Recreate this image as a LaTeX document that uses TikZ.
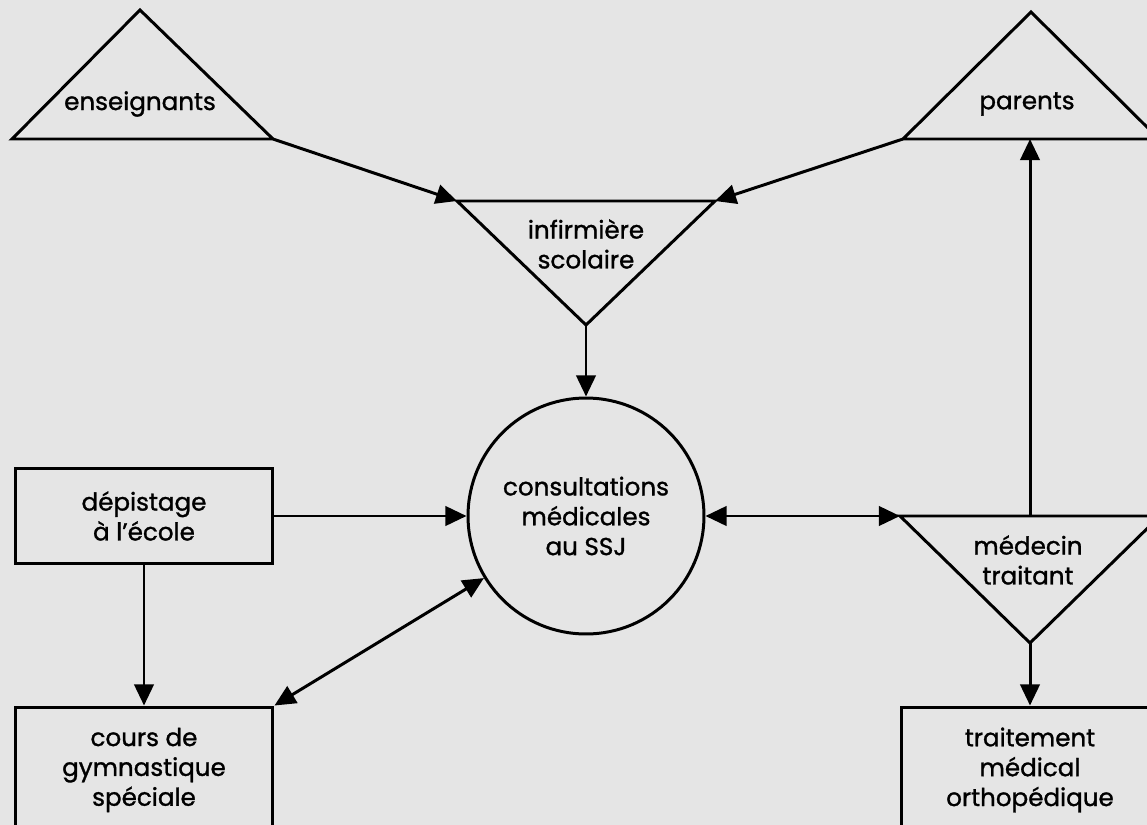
\documentclass[tikz,border=0pt]{standalone}
\usepackage{fontspec}
\setmainfont{Poppins}[FakeBold=1.2]
\usetikzlibrary{arrows.meta}

\begin{document}
\begin{tikzpicture}[x=0.02cm, y=-0.02cm, line width=1.7pt,
		arr/.style={-{Triangle[length=12pt,width=11pt]}},
		dbl/.style={{Triangle[length=12pt,width=11pt]}-{Triangle[length=12pt,width=11pt]}},
		box/.style={draw, rectangle, minimum width=5.16cm, minimum height=2.52cm, inner sep=0pt},
		txt/.style={align=center, font=\fontsize{14}{17}\selectfont}]
			\useasboundingbox (0,0) rectangle (1147,825);
			\fill[black!10] (0,0) rectangle (1147,825);
			\clip (0,0) rectangle (1147,825);
			% triangles
			\draw (12,139) -- (140,10) -- (273,139) coordinate (Er) -- cycle;
			\draw (903,139) coordinate (Pl) -- (1031,12) -- (1159,139) -- cycle;
			\draw (457,201) coordinate (Il) -- (715,201) coordinate (Ir) -- (586,325) coordinate (Ib) -- cycle;
			\draw (900,516) coordinate (Ml) -- (1160,516) -- (1030,643) coordinate (Mb) -- cycle;
			\coordinate (Mt) at (1030,516);
			\coordinate (Pb) at (1030,139);
			\node[txt] (E)at(140, 104) {enseignants};
			\node[txt] (P)at(1027, 104) {parents};
			\node[txt] (I)at(586, 244) {infirmière\\scolaire};
			\node[txt] (M)at(1028, 560) {médecin\\traitant};
			% boxes and circle
			\node[txt, draw, circle, minimum size=4.72cm, inner sep=0pt] (S)at(586, 516) {consultations\\médicales\\au SSJ};
			\node[txt, box, minimum height=1.9cm] (D)at(144, 516) {dépistage\\à l'école};
			\node[txt, box] (G)at(144, 770) {cours de\\gymnastique\\spéciale};
			\node[txt, box] (T)at(1030, 770) {traitement\\médical\\orthopédique};
			% arrows
			\draw[arr] (Er) -- (Il);
			\draw[arr] (Pl) -- (Ir);
			\draw[arr] (Ib) -- (S);
			\draw[arr] (D) -- (S);
			\draw[arr] (D) -- (G);
			\draw[dbl] (G.north east) -- (S);
			\draw[dbl] (S) -- (Ml);
			\draw[arr] (Mt) -- (Pb);
			\draw[arr] (Mb) -- (T);
		\end{tikzpicture}
\end{document}
